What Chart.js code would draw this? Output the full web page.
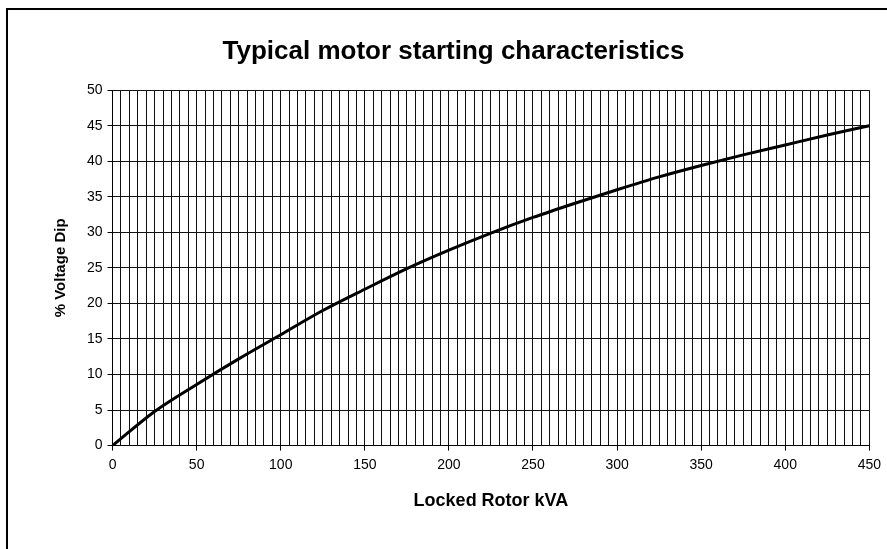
<!DOCTYPE html>
<html>
<head>
  <title>Typical motor starting characteristics</title>
  <meta name="viewport" content="width=device-width, initial-scale=1">
  <style>
    body { margin: 0; background: #fff; overflow: hidden; }
    #wrap { position: relative; width: 887px; height: 549px; }
    #frame { position: absolute; left: 6px; top: 8px; width: 1000px; height: 1000px; border: 2px solid #000; pointer-events: none; }
  </style>
</head>
<body>
  <div id="wrap">
    <canvas id="myChart" width="887" height="549"></canvas>
    <div id="frame"></div>
  </div>
  <script src="https://cdn.jsdelivr.net/npm/chart.js"></script>
  <script>
    // readings taken off the curve
    var kva = [0, 25, 50, 75, 100, 125, 150, 175, 200, 225, 250, 275, 300, 325, 350, 375, 400, 425, 450];
    var dip = [0, 4.8, 8.6, 12.2, 15.6, 19.0, 22.0, 24.9, 27.5, 29.9, 32.1, 34.1, 36.0, 37.8, 39.4, 40.9, 42.3, 43.7, 45.0];

    var xMin = 0, xMax = 450, xStep = 5, xLabelStep = 50;
    var yMin = 0, yMax = 50, yStep = 5;

    var points = [];
    for (var i = 0; i < kva.length; i++) {
      points.push({ x: kva[i], y: dip[i] });
    }

    var font = "'Liberation Sans', Arial, sans-serif";
    Chart.defaults.font.family = font;
    Chart.defaults.color = '#000';

    const ctx = document.getElementById('myChart');
    var chart = new Chart(ctx, {
      type: 'line',
      data: {
        datasets: [{
          label: '% Voltage Dip',
          data: points,
          borderColor: '#000',
          borderWidth: 3,
          pointRadius: 0,
          fill: false,
          cubicInterpolationMode: 'monotone'
        }]
      },
      options: {
        responsive: false,
        animation: false,
        layout: { padding: { left: 22, right: 2, top: 36, bottom: 33 } },
        plugins: {
          legend: { display: false },
          tooltip: { enabled: false },
          title: {
            display: true,
            text: 'Typical motor starting characteristics',
            font: { size: 26, weight: 'bold' },
            color: '#000',
            padding: { top: 0, bottom: 23 }
          }
        },
        scales: {
          x: {
            type: 'linear',
            min: xMin,
            max: xMax,
            border: { color: '#000', width: 1 },
            grid: {
              color: '#111',
              lineWidth: 1,
              tickLength: 5,
              tickColor: function (c) { return c.tick && c.tick.value % xLabelStep === 0 ? '#000' : 'rgba(0,0,0,0)'; }
            },
            ticks: {
              stepSize: xStep,
              autoSkip: false,
              maxRotation: 0,
              padding: 6,
              font: { size: 14 },
              callback: function (v) { return v % xLabelStep === 0 ? v : ''; }
            },
            title: {
              display: true,
              text: 'Locked Rotor kVA',
              font: { size: 18, weight: 'bold' },
              padding: { top: 11 }
            }
          },
          y: {
            min: yMin,
            max: yMax,
            border: { color: '#000', width: 1 },
            grid: { color: '#111', lineWidth: 1, tickLength: 5, tickColor: '#000' },
            ticks: {
              stepSize: yStep,
              padding: 5,
              font: { size: 14 }
            },
            title: {
              display: true,
              text: '% Voltage Dip',
              font: { size: 15, weight: 'bold' },
              padding: { top: 30, bottom: 12 }
            }
          }
        }
      }
    });
  </script>
</body>
</html>
